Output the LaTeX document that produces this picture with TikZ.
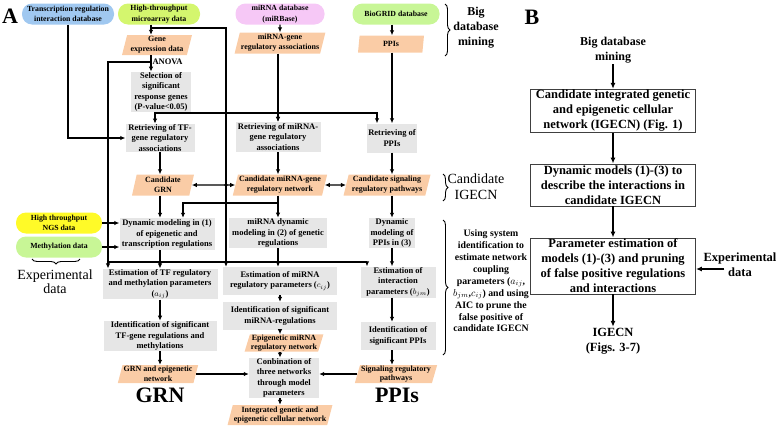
\documentclass[tikz,border=0pt]{standalone}
\usepackage{fontspec}
\setmainfont{Liberation Serif}
\usepackage{tikz}
\usetikzlibrary{shapes.geometric,arrows.meta,decorations.pathreplacing}
\definecolor{dbblue}{RGB}{160,200,240}
\definecolor{microgreen}{RGB}{212,246,110}
\definecolor{mirpink}{RGB}{246,200,246}
\definecolor{biogreen}{RGB}{200,246,150}
\definecolor{ngsyellow}{RGB}{255,250,40}
\definecolor{peach}{RGB}{250,204,166}
\definecolor{procgray}{RGB}{230,230,230}

\begin{document}
\begin{tikzpicture}[x=1pt, y=-1pt,
  every node/.style={inner sep=1pt, align=center},
  db/.style={rounded corners=10pt, fill=#1, minimum height=21pt, inner ysep=0.5pt, font=\fontsize{7.8}{10.6}\selectfont\bfseries},
  proc/.style 2 args={fill=procgray, minimum width=#1pt, minimum height=#2pt, font=\fontsize{8.5}{10.2}\selectfont\bfseries},
  data/.style 2 args={trapezium, trapezium left angle=73, trapezium right angle=107, trapezium stretches body, fill=peach, minimum width=#1pt, minimum height=#2pt, inner ysep=0pt, font=\fontsize{8}{9.8}\selectfont\bfseries},
  arr/.style={-{Latex[length=5pt,width=4.5pt]}, line width=1.1pt},
  dbl/.style={{Latex[length=5pt,width=4.5pt]}-{Latex[length=5pt,width=4.5pt]}, line width=1.1pt},
  brc/.style={decorate, decoration={brace, amplitude=5pt}, line width=0.9pt},
  stepbox/.style={draw=black!75, line width=0.9pt, minimum width=165pt, font=\fontsize{12.5}{15}\selectfont\bfseries},
  barr/.style={-{Latex[length=6pt,width=5pt]}, line width=1.3pt}]
\useasboundingbox (0,0) rectangle (778,426);

% Panel A: sources
\node[font=\fontsize{22}{22}\selectfont\bfseries, inner sep=0pt] (lblA) at (10,16) {A};
\node[db=dbblue, minimum width=92pt] (tfdb) at (68,14) {Transcription regulation\\interaction database};
\node[db=microgreen, minimum width=82pt] (micro) at (159,14) {High-throughput\\microarray data};
\node[db=mirpink, minimum width=89pt] (mirdb) at (280,14) {miRNA database\\(miRBase)};
\node[db=biogreen, minimum width=87pt] (biogrid) at (396,14) {BioGRID database};
\node[db=ngsyellow, minimum width=86pt] (ngs) at (59,223) {High throughput\\NGS data};
\node[db=biogreen, minimum width=86pt] (meth) at (59,247) {Methylation data};

% Data and candidate networks
\node[data={70}{20}] (gene) at (157,45) {Gene\\expression data};
\node[data={86}{21}] (mirassoc) at (280,43) {miRNA-gene\\regulatory associations};
\node[data={66}{17}] (ppis) at (391,44) {PPIs};
\node[data={62}{21}] (cgrn) at (163,185) {Candidate\\GRN};
\node[data={90}{21}] (cmir) at (280,185) {Candidate miRNA-gene\\regulatory network};
\node[data={87}{21}] (csig) at (387,185) {Candidate signaling\\regulatory pathways};
\node[data={80}{18}] (grnnet) at (158,374) {GRN and epigenetic\\network};
\node[data={78}{17}] (epimir) at (284,343) {Epigenetic miRNA\\regulatory network};
\node[data={78}{18}] (sigpath) at (396,374) {Signaling regulatory\\pathways};
\node[data={100}{20}] (integ) at (280,415) {Integrated genetic and\\epigenetic cellular network};

% Processing steps
\node[proc={60}{39}] (sel) at (161,92) {Selection of\\significant\\response genes\\(P-value<0.05)};
\node[proc={69}{28}] (rtf) at (160,138) {Retrieving of TF-\\gene regulatory\\associations};
\node[proc={85}{30}] (rmir) at (278,137) {Retrieving of miRNA-\\gene regulatory\\associations};
\node[proc={48}{29}] (rppi) at (392,138) {Retrieving of\\PPIs};
\node[proc={95}{32}] (dyn1) at (167,234) {Dynamic modeling in (1)\\of epigenetic and\\transcription regulations};
\node[proc={98}{30}] (dyn2) at (278,233) {miRNA dynamic\\modeling in (2) of genetic\\regulations};
\node[proc={46}{30}] (dyn3) at (392,233) {Dynamic\\modeling of\\PPIs in (3)};
\node[proc={115}{29}] (est1) at (160,284) {Estimation of TF regulatory\\and methylation parameters\\($a_{ij}$)};
\node[proc={114}{28}] (est2) at (280,281) {Estimation of miRNA\\regulatory parameters ($c_{ij}$)};
\node[proc={75}{31}] (est3) at (398,282) {Estimation of\\interaction\\parameters ($b_{jm}$)};
\node[proc={113}{29}] (id1) at (160,336) {Identification of significant\\TF-gene regulations and\\methylations};
\node[proc={114}{28}] (id2) at (280,316) {Identification of significant\\miRNA-regulations};
\node[proc={75}{28}] (id3) at (398,336) {Identification of\\significant PPIs};
\node[proc={70}{40}] (comb) at (284,378) {Conbination of\\three networks\\through model\\parameters};

% Big labels
\node[font=\fontsize{22}{22}\selectfont\bfseries, inner sep=0pt] (grnlbl) at (160,395) {GRN};
\node[font=\fontsize{22}{22}\selectfont\bfseries, inner sep=0pt] (ppilbl) at (397,395) {PPIs};
\node[font=\fontsize{14}{14}\selectfont] (expA) at (55,282) {Experimental\\data};
\node[font=\fontsize{12}{15}\selectfont\bfseries] (bigA) at (476,28) {Big\\database\\mining};
\node[font=\fontsize{14}{16}\selectfont] (candA) at (476,187) {Candidate\\IGECN};
\node[font=\fontsize{9.8}{11.9}\selectfont\bfseries] (usingA) at (491,281) {Using system\\identification to\\estimate network\\coupling\\parameters ($a_{ij}$,\\$b_{jm}$,$c_{ij}$) and using\\AIC to prune the\\false positive of\\candidate IGECN};

% Braces
\draw[brc] (445,4) -- (445,56);
\draw[brc] (443,174) -- (443,201);
\draw[brc] (443,220) -- (443,355);
\draw[brc] (80,259) -- (32,259);

% Junction points
\coordinate (c1) at (151,28);
\coordinate (a1) at (151,62);
\coordinate (lx) at (108,0);
\coordinate (mx) at (226,0);
\coordinate (t1) at (155,113);
\coordinate (b1) at (278,203);
\coordinate (h1) at (108,262);
\coordinate (h2) at (367,262);

% Connectors
\draw[arr] (tfdb.south) |- (rtf.west);
\draw[arr] (micro.south -| c1) -- (gene.north -| c1);
\draw[arr] (c1) -| (est2.north -| mx);
\draw[arr] (gene.south -| c1) -- node[pos=0.42, anchor=west, font=\fontsize{8.5}{10}\selectfont\bfseries] {ANOVA} (sel.north -| c1);
\draw[arr] (a1) -| (est1.north -| lx);
\draw[arr] (h1) -| (est3.north -| h2);
\draw[arr] (sel.south -| t1) -- (rtf.north -| t1);
\draw[arr] (t1) -| (rmir.north);
\draw[arr] (t1) -| ([xshift=-15pt]rppi.north);
\draw[arr] (mirdb.south) -- (mirassoc.north);
\draw[arr] (mirassoc.south -| rmir.north) -- (rmir.north);
\draw[arr] (biogrid.south -| rppi.north) -- (ppis.north -| rppi.north);
\draw[arr] (ppis.south -| rppi.north) -- (rppi.north);
\draw[arr] (rtf.south) -- (rtf.south |- cgrn.north);
\draw[arr] (rmir.south) -- (rmir.south |- cmir.north);
\draw[arr] (rppi.south) -- (rppi.south |- csig.north);
\draw[dbl] (cgrn.east) -- (cmir.west);
\draw[dbl] (cmir.east) -- (csig.west);
\draw[arr] (cgrn.south -| rtf.south) -- (dyn1.north -| rtf.south);
\draw[arr] (cmir.south -| b1) -- (dyn2.north -| b1);
\draw[arr] (b1) -| ([xshift=16pt]dyn1.north);
\draw[arr] (csig.south -| dyn3.north) -- (dyn3.north);
\draw[arr] (ngs.east) -- (ngs.east -| dyn1.west);
\draw[arr] (meth.east) -- (meth.east -| dyn1.west);
\draw[arr] (dyn1.south -| est1.north) -- (est1.north);
\draw[arr] (dyn2.south) -- (dyn2.south |- est2.north);
\draw[arr] (dyn3.south) -- (dyn3.south |- est3.north);
\draw[arr] (est1.south) -- (id1.north);
\draw[arr] (est2.south) -- (id2.north);
\draw[arr] (est3.south -| dyn3.south) -- (id3.north -| dyn3.south);
\draw[arr] (id1.south) -- (id1.south |- grnnet.north);
\draw[arr] (id2.south) -- (id2.south |- epimir.north);
\draw[arr] (id3.south -| dyn3.south) -- (sigpath.north -| dyn3.south);
\draw[arr] (epimir.south -| id2.south) -- (comb.north -| id2.south);
\draw[arr] (comb.south -| id2.south) -- (integ.north -| id2.south);
\draw[arr] (grnnet.east) -- (grnnet.east -| comb.west);
\draw[arr] (sigpath.west) -- (sigpath.west -| comb.east);

% Junction dots
\foreach \a/\b in {lx/rtf.west, lx/ngs.east, lx/meth.east, mx/t1, mx/cgrn.east, mx/b1, mx/h1, b1/h1}
  \fill (\a |- \b) circle (1.8pt);

% Panel B
\node[font=\fontsize{22}{22}\selectfont\bfseries, inner sep=0pt] (lblB) at (532,17) {B};
\node[font=\fontsize{12}{15}\selectfont\bfseries] (bdb) at (613,50) {Big database\\mining};
\node[stepbox, minimum height=42pt] (box1) at (613,111) {Candidate integrated genetic\\and epigenetic cellular\\network (IGECN) (Fig. 1)};
\node[stepbox, minimum height=42pt] (box2) at (613,185) {Dynamic models (1)-(3) to\\describe the interactions in\\candidate IGECN};
\node[stepbox, minimum height=56pt] (box3) at (613,266) {Parameter estimation of\\models (1)-(3) and pruning\\of false positive regulations\\and interactions};
\node[font=\fontsize{12.5}{15}\selectfont\bfseries] (bexp) at (740,265) {Experimental\\data};
\node[font=\fontsize{12.5}{15}\selectfont\bfseries] (bres) at (613,341) {IGECN\\(Figs. 3-7)};
\draw[barr] (bdb.south) -- (box1.north);
\draw[barr] (box1.south) -- (box2.north);
\draw[barr] (box2.south) -- (box3.north);
\draw[barr] (box3.south) -- (bres.north);
\draw[barr] ([xshift=22pt,yshift=-4pt]bexp.west) -- ([yshift=-4pt]bexp.west -| box3.east);
\end{tikzpicture}
\end{document}
